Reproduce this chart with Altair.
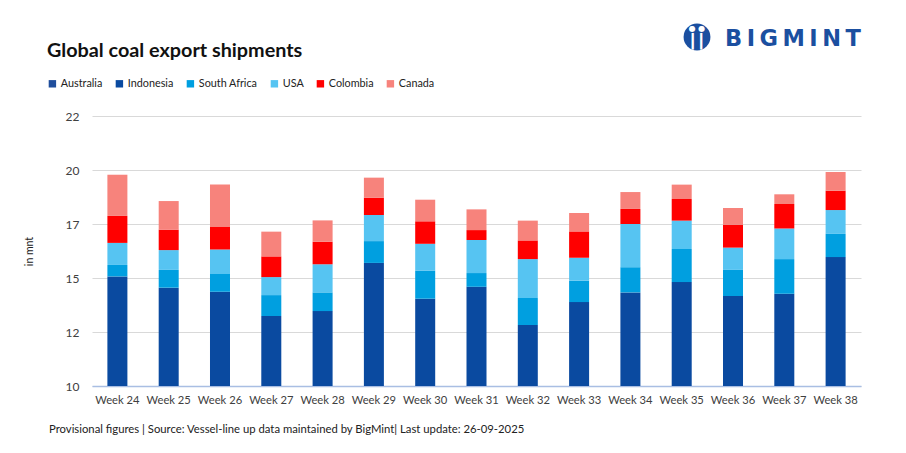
import altair as alt
import pandas as pd

weeks = [f"Week {i}" for i in range(24, 39)]
series = ["Australia", "Indonesia", "South Africa", "USA", "Colombia", "Canada"]
colors = ["#1F4E9C", "#0A4AA0", "#009FE0", "#56C4F2", "#FF0000", "#F7837C"]

australia = [6.80, 6.50, 6.90, 6.20, 6.40, 7.10, 6.60, 6.70, 5.90, 6.30, 6.80, 7.00, 6.50, 6.60, 7.20]
indonesia = [8.07, 7.87, 7.29, 6.91, 6.93, 8.37, 7.28, 7.71, 6.81, 7.43, 7.36, 7.62, 7.50, 7.50, 8.53]
south_africa = [0.51, 0.79, 0.79, 0.93, 0.83, 0.97, 1.24, 0.61, 1.20, 0.95, 1.12, 1.47, 1.16, 1.54, 1.03]
usa = [0.98, 0.88, 1.09, 0.80, 1.25, 1.16, 1.20, 1.47, 1.73, 1.02, 1.92, 1.26, 0.99, 1.36, 1.06]
colombia = [1.20, 0.91, 1.00, 0.92, 1.00, 0.77, 1.00, 0.44, 0.83, 1.17, 0.67, 0.96, 1.02, 1.09, 0.86]
canada = [1.83, 1.27, 1.89, 1.10, 0.95, 0.89, 0.96, 0.92, 0.88, 0.82, 0.75, 0.64, 0.74, 0.43, 0.83]

y_ticks = [10, 12.4, 14.8, 17.2, 19.6, 22]

values = [australia, indonesia, south_africa, usa, colombia, canada]
rows = []
for si, (name, vals) in enumerate(zip(series, values)):
    for w, v in zip(weeks, vals):
        rows.append({"week": w, "country": name, "value": v, "ord": si})
df = pd.DataFrame(rows)

FONT = "Lato"

bars = alt.Chart(df).mark_bar(clip=True).encode(
    x=alt.X("week:N", sort=weeks, title=None,
            scale=alt.Scale(paddingInner=0.61, paddingOuter=0.3),
            axis=alt.Axis(labelAngle=0, labelFontSize=11.2, labelColor="#404040",
                          labelFont=FONT, ticks=False, domain=True,
                          domainColor="#A9BEE3", domainWidth=1.5, labelPadding=8)),
    y=alt.Y("value:Q", stack="zero", title="in mnt",
            scale=alt.Scale(domain=[10, 22], nice=False, zero=False),
            axis=alt.Axis(values=y_ticks, format=".0f", labelFontSize=12,
                          labelColor="#404040", labelFont=FONT, ticks=False,
                          domain=False, grid=True, gridColor="#D9D9D9",
                          labelPadding=13, titleFont=FONT, titleFontSize=10.5,
                          titleFontWeight="normal", titleColor="#222222",
                          titlePadding=31)),
    color=alt.Color("country:N", sort=series,
                    scale=alt.Scale(domain=series, range=colors),
                    legend=alt.Legend(orient="none", legendX=-45, legendY=-38,
                                      direction="horizontal", title=None,
                                      symbolType="square", symbolSize=55,
                                      symbolStrokeWidth=0, labelFont=FONT,
                                      labelFontSize=10.8, labelColor="#222222",
                                      columnPadding=11, symbolOffset=0,
                                      labelOffset=3)),
    order=alt.Order("ord:Q", sort="ascending"),
)

title = alt.Chart(pd.DataFrame({"t": ["Global coal export shipments"]})).mark_text(
    align="left", baseline="alphabetic", font=FONT, fontSize=19.8,
    fontWeight="bold", color="#111111"
).encode(x=alt.value(-45), y=alt.value(-59), text="t:N")

footer = alt.Chart(pd.DataFrame({"t": ["Provisional figures | Source: Vessel-line up data maintained by BigMint| Last update: 26-09-2025"]})).mark_text(
    align="left", baseline="alphabetic", font=FONT, fontSize=11.3,
    color="#222222"
).encode(x=alt.value(-43), y=alt.value(317), text="t:N")

logo_text = alt.Chart(pd.DataFrame({"t": ["B\u2009I\u2009G\u2009M\u2009I\u2009N\u2009T"]})).mark_text(
    align="left", baseline="alphabetic", font="DejaVu Sans", fontSize=22.5,
    fontWeight="bold", color="#1B4FA0"
).encode(x=alt.value(633), y=alt.value(-70), text="t:N")

logo_circle = alt.Chart(pd.DataFrame({"t": ["logo"]})).mark_point(
    shape="circle", filled=True, size=720, color="#1B4FA0", opacity=1
).encode(x=alt.value(605), y=alt.value(-79))

logo_heads = alt.Chart(pd.DataFrame({"t": ["\u25CF \u25CF"]})).mark_text(
    align="center", baseline="middle", font="DejaVu Sans", fontSize=8,
    color="white"
).encode(x=alt.value(605), y=alt.value(-87), text="t:N")

logo_bodies = alt.Chart(pd.DataFrame({"t": ["\u2503\u2503"]})).mark_text(
    align="center", baseline="middle", font="DejaVu Sans", fontSize=14,
    color="white"
).encode(x=alt.value(605), y=alt.value(-74), text="t:N")

chart = alt.layer(bars, title, footer, logo_circle, logo_heads, logo_bodies, logo_text).properties(
    width=769, height=270,
    autosize=alt.AutoSizeParams(type="none"),
    padding={"left": 84, "top": 108, "right": 37, "bottom": 60},
    background="white",
).configure_view(stroke=None)

chart.save("out.html", embed_options={"renderer": "svg", "actions": False})
